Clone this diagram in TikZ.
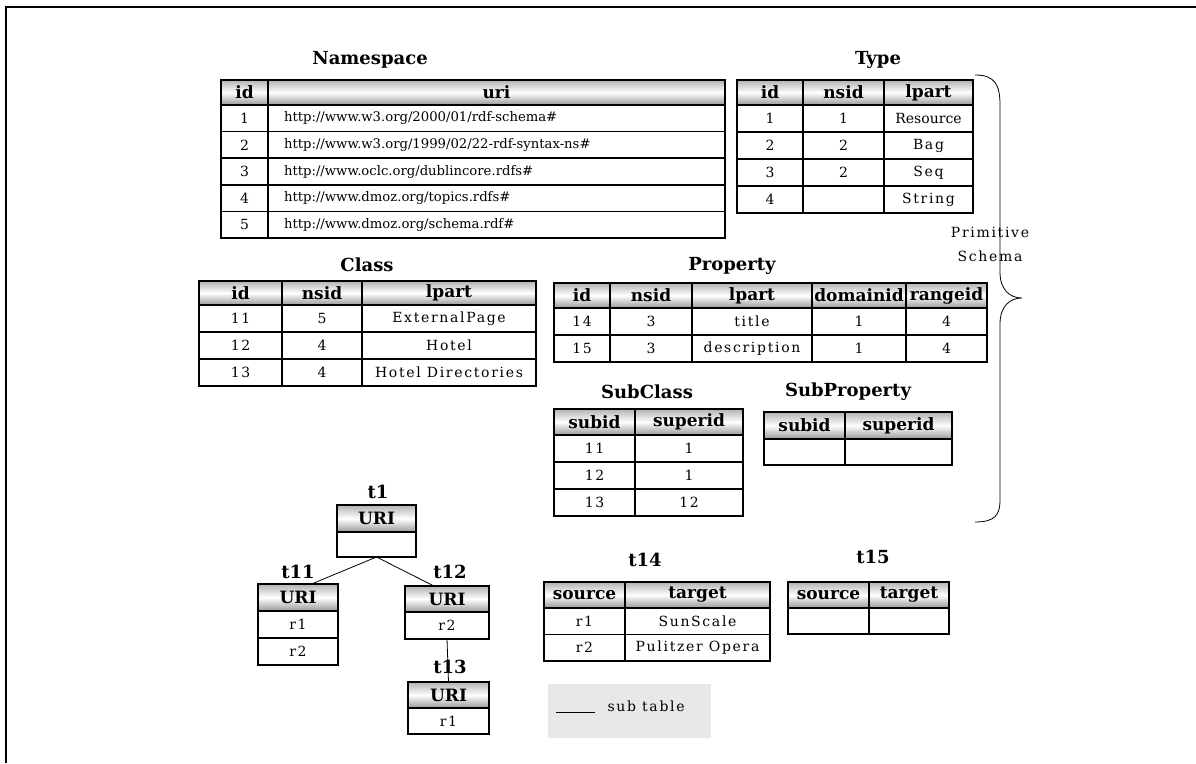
\documentclass[tikz,border=0pt]{standalone}
\usepackage{fontspec}
\setmainfont{DejaVu Serif}
\newfontfamily\widefont{DejaVu Serif}[LetterSpace=12]
\usepackage{tikz}

\tikzset{
    cellstyle/.style={rectangle, draw, line width=1.6pt, anchor=north west,
        inner sep=0pt, outer sep=0pt, align=center, font=\fontsize{14}{16}\widefont},
    urlstyle/.style={cellstyle, text width=425pt, align=left,
        font=\fontsize{13.2}{15}\selectfont},
    headstyle/.style={cellstyle, top color=gray!60, bottom color=gray!80,
        middle color=white, font=\bfseries\fontsize{17}{19}\selectfont},
    titlestyle/.style={font=\bfseries\fontsize{18}{20}\selectfont},
    linkstyle/.style={line width=0.8pt}
}

\begin{document}
\begin{tikzpicture}[x=1pt, y=-1pt]
\useasboundingbox (0,0) rectangle (1196,763);
\draw[line width=2pt] (6,763) -- (6,7) -- (1196,7);

% Namespace
\node[titlestyle] (nstitle) at (370,60) {Namespace};
\node[headstyle, minimum width=47pt, minimum height=25pt] (nsh1) at (221,80) {id};
\node[headstyle, minimum width=457pt, minimum height=25pt] (nsh2) at (268,80) {uri};
\node[cellstyle, minimum width=47pt, minimum height=26.6pt] (ns1a) at (221,105) {1};
\node[urlstyle, minimum width=457pt, minimum height=26.6pt] (ns1b) at (268,105) {http://www.w3.org/2000/01/rdf-schema\#};
\node[cellstyle, minimum width=47pt, minimum height=26.6pt] (ns2a) at (221,131.6) {2};
\node[urlstyle, minimum width=457pt, minimum height=26.6pt] (ns2b) at (268,131.6) {http://www.w3.org/1999/02/22-rdf-syntax-ns\#};
\node[cellstyle, minimum width=47pt, minimum height=26.6pt] (ns3a) at (221,158.2) {3};
\node[urlstyle, minimum width=457pt, minimum height=26.6pt] (ns3b) at (268,158.2) {http://www.oclc.org/dublincore.rdfs\#};
\node[cellstyle, minimum width=47pt, minimum height=26.6pt] (ns4a) at (221,184.8) {4};
\node[urlstyle, minimum width=457pt, minimum height=26.6pt] (ns4b) at (268,184.8) {http://www.dmoz.org/topics.rdfs\#};
\node[cellstyle, minimum width=47pt, minimum height=26.6pt] (ns5a) at (221,211.4) {5};
\node[urlstyle, minimum width=457pt, minimum height=26.6pt] (ns5b) at (268,211.4) {http://www.dmoz.org/schema.rdf\#};

% Type
\node[titlestyle] (tytitle) at (878,60) {Type};
\node[headstyle, minimum width=66pt, minimum height=25pt] (tyh1) at (737,80) {id};
\node[headstyle, minimum width=81pt, minimum height=25pt] (tyh2) at (803,80) {nsid};
\node[headstyle, minimum width=89pt, minimum height=25pt] (tyh3) at (884,80) {lpart};
\node[cellstyle, minimum width=66pt, minimum height=27pt] (ty1a) at (737,105) {1};
\node[cellstyle, minimum width=81pt, minimum height=27pt] (ty1b) at (803,105) {1};
\node[cellstyle, minimum width=89pt, minimum height=27pt, font=\fontsize{14}{16}\selectfont] (ty1c) at (884,105) {Resource};
\node[cellstyle, minimum width=66pt, minimum height=27pt] (ty2a) at (737,132) {2};
\node[cellstyle, minimum width=81pt, minimum height=27pt] (ty2b) at (803,132) {2};
\node[cellstyle, minimum width=89pt, minimum height=27pt] (ty2c) at (884,132) {Bag};
\node[cellstyle, minimum width=66pt, minimum height=27pt] (ty3a) at (737,159) {3};
\node[cellstyle, minimum width=81pt, minimum height=27pt] (ty3b) at (803,159) {2};
\node[cellstyle, minimum width=89pt, minimum height=27pt] (ty3c) at (884,159) {Seq};
\node[cellstyle, minimum width=66pt, minimum height=27pt] (ty4a) at (737,186) {4};
\node[cellstyle, minimum width=81pt, minimum height=27pt] (ty4b) at (803,186) {};
\node[cellstyle, minimum width=89pt, minimum height=27pt] (ty4c) at (884,186) {String};

% Class
\node[titlestyle] (cltitle) at (367,265) {Class};
\node[headstyle, minimum width=83pt, minimum height=24pt] (clh1) at (199,281) {id};
\node[headstyle, minimum width=80pt, minimum height=24pt] (clh2) at (282,281) {nsid};
\node[headstyle, minimum width=174pt, minimum height=24pt] (clh3) at (362,281) {lpart};
\node[cellstyle, minimum width=83pt, minimum height=27pt] (cl1a) at (199,305) {11};
\node[cellstyle, minimum width=80pt, minimum height=27pt] (cl1b) at (282,305) {5};
\node[cellstyle, minimum width=174pt, minimum height=27pt] (cl1c) at (362,305) {ExternalPage};
\node[cellstyle, minimum width=83pt, minimum height=27pt] (cl2a) at (199,332) {12};
\node[cellstyle, minimum width=80pt, minimum height=27pt] (cl2b) at (282,332) {4};
\node[cellstyle, minimum width=174pt, minimum height=27pt] (cl2c) at (362,332) {Hotel};
\node[cellstyle, minimum width=83pt, minimum height=27pt] (cl3a) at (199,359) {13};
\node[cellstyle, minimum width=80pt, minimum height=27pt] (cl3b) at (282,359) {4};
\node[cellstyle, minimum width=174pt, minimum height=27pt] (cl3c) at (362,359) {Hotel Directories};

% Property
\node[titlestyle] (prtitle) at (732,266) {Property};
\node[headstyle, minimum width=56pt, minimum height=25pt] (prh1) at (554,283) {id};
\node[headstyle, minimum width=82pt, minimum height=25pt] (prh2) at (610,283) {nsid};
\node[headstyle, minimum width=120pt, minimum height=25pt] (prh3) at (692,283) {lpart};
\node[headstyle, minimum width=94pt, minimum height=25pt] (prh4) at (812,283) {domainid};
\node[headstyle, minimum width=81pt, minimum height=25pt] (prh5) at (906,283) {rangeid};
\node[cellstyle, minimum width=56pt, minimum height=27pt] (pr1a) at (554,308) {14};
\node[cellstyle, minimum width=82pt, minimum height=27pt] (pr1b) at (610,308) {3};
\node[cellstyle, minimum width=120pt, minimum height=27pt] (pr1c) at (692,308) {title};
\node[cellstyle, minimum width=94pt, minimum height=27pt] (pr1d) at (812,308) {1};
\node[cellstyle, minimum width=81pt, minimum height=27pt] (pr1e) at (906,308) {4};
\node[cellstyle, minimum width=56pt, minimum height=27pt] (pr2a) at (554,335) {15};
\node[cellstyle, minimum width=82pt, minimum height=27pt] (pr2b) at (610,335) {3};
\node[cellstyle, minimum width=120pt, minimum height=27pt] (pr2c) at (692,335) {description};
\node[cellstyle, minimum width=94pt, minimum height=27pt] (pr2d) at (812,335) {1};
\node[cellstyle, minimum width=81pt, minimum height=27pt] (pr2e) at (906,335) {4};

% SubClass and SubProperty
\node[titlestyle] (sctitle) at (647,392) {SubClass};
\node[headstyle, minimum width=81pt, minimum height=26pt] (sch1) at (554,409) {subid};
\node[headstyle, minimum width=108pt, minimum height=26pt] (sch2) at (635,409) {superid};
\node[cellstyle, minimum width=81pt, minimum height=27pt] (sc1a) at (554,435) {11};
\node[cellstyle, minimum width=108pt, minimum height=27pt] (sc1b) at (635,435) {1};
\node[cellstyle, minimum width=81pt, minimum height=27pt] (sc2a) at (554,462) {12};
\node[cellstyle, minimum width=108pt, minimum height=27pt] (sc2b) at (635,462) {1};
\node[cellstyle, minimum width=81pt, minimum height=27pt] (sc3a) at (554,489) {13};
\node[cellstyle, minimum width=108pt, minimum height=27pt] (sc3b) at (635,489) {12};

\node[titlestyle] (sptitle) at (848,392) {SubProperty};
\node[headstyle, minimum width=81pt, minimum height=27pt] (sph1) at (764,412) {subid};
\node[headstyle, minimum width=107pt, minimum height=27pt] (sph2) at (845,412) {superid};
\node[cellstyle, minimum width=81pt, minimum height=26pt] (sp1a) at (764,439) {};
\node[cellstyle, minimum width=107pt, minimum height=26pt] (sp1b) at (845,439) {};

% Primitive schema brace
\draw[line width=0.8pt] (975,75) .. controls (995,75) and (1000,85) .. (1000,105)
    -- (1000,272) .. controls (1000,290) and (1010,298) .. (1022,298)
    .. controls (1010,298) and (1000,306) .. (1000,324)
    -- (1000,500) .. controls (1000,515) and (995,522) .. (975,522);
\node[align=center, font=\fontsize{14}{24}\widefont] (primlabel) at (990,244) {Primitive\\Schema};

% tree of sub tables
\node[titlestyle] (t1title) at (378,492) {t1};
\node[headstyle, minimum width=79pt, minimum height=27pt] (t1h) at (337,505) {URI};
\node[cellstyle, minimum width=79pt, minimum height=25pt] (t1r) at (337,532) {};

\node[titlestyle] (t11title) at (298,572) {t11};
\node[headstyle, minimum width=80pt, minimum height=27pt] (t11h) at (258,584) {URI};
\node[cellstyle, minimum width=80pt, minimum height=27pt] (t11r1) at (258,611) {r1};
\node[cellstyle, minimum width=80pt, minimum height=27pt] (t11r2) at (258,638) {r2};

\node[titlestyle] (t12title) at (450,572) {t12};
\node[headstyle, minimum width=84pt, minimum height=26pt] (t12h) at (405,586) {URI};
\node[cellstyle, minimum width=84pt, minimum height=27pt] (t12r) at (405,612) {r2};

\node[titlestyle] (t13title) at (450,667) {t13};
\node[headstyle, minimum width=81pt, minimum height=26pt] (t13h) at (408,682) {URI};
\node[cellstyle, minimum width=81pt, minimum height=26pt] (t13r) at (408,708) {r1};

\draw[linkstyle] (t1r.south) -- (t11h.45);
\draw[linkstyle] (t1r.south) -- (t12h.135);
\draw[linkstyle] (t12r.south) -- (t13h.north);

% t14 and t15
\node[titlestyle] (t14title) at (645,560) {t14};
\node[headstyle, minimum width=81pt, minimum height=26pt] (t14h1) at (544,582) {source};
\node[headstyle, minimum width=145pt, minimum height=26pt] (t14h2) at (625,582) {target};
\node[cellstyle, minimum width=81pt, minimum height=26.5pt] (t14r1a) at (544,608) {r1};
\node[cellstyle, minimum width=145pt, minimum height=26.5pt] (t14r1b) at (625,608) {SunScale};
\node[cellstyle, minimum width=81pt, minimum height=26.5pt] (t14r2a) at (544,634.5) {r2};
\node[cellstyle, minimum width=145pt, minimum height=26.5pt] (t14r2b) at (625,634.5) {Pulitzer Opera};

\node[titlestyle] (t15title) at (873,557) {t15};
\node[headstyle, minimum width=81pt, minimum height=26pt] (t15h1) at (788,582) {source};
\node[headstyle, minimum width=80pt, minimum height=26pt] (t15h2) at (869,582) {target};
\node[cellstyle, minimum width=81pt, minimum height=26pt] (t15r1a) at (788,608) {};
\node[cellstyle, minimum width=80pt, minimum height=26pt] (t15r1b) at (869,608) {};

% legend
\node[rectangle, fill=gray!18, minimum width=163pt, minimum height=54pt, anchor=north west,
    inner sep=0pt] (legend) at (548,684) {};
\coordinate (legA) at (556,712);
\coordinate (legB) at (595,712);
\draw[linkstyle] (legA) -- (legB);
\node[anchor=west, font=\fontsize{14}{16}\widefont] (legtext) at (604,706) {sub table};

\end{tikzpicture}
\end{document}
